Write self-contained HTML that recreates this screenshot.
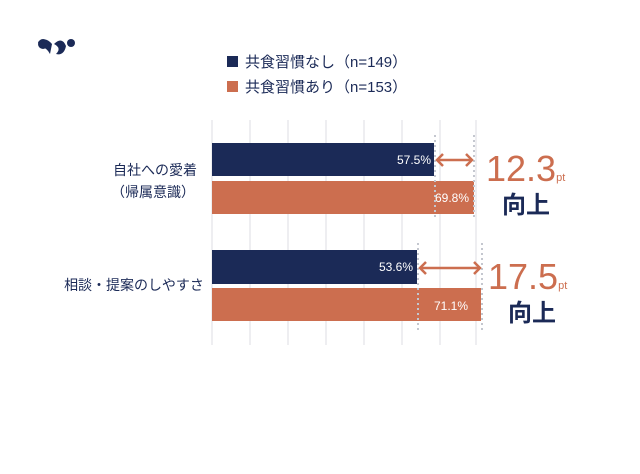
<!DOCTYPE html>
<html><head><meta charset="utf-8"><style>
body{margin:0;background:#fff;width:640px;height:469px;overflow:hidden;font-family:"Liberation Sans","Noto Sans CJK JP",sans-serif;}
</style></head><body>
<svg width="640" height="469" xmlns="http://www.w3.org/2000/svg" font-family="Liberation Sans, Noto Sans CJK JP, sans-serif">
<g fill="#1b2a57">
<circle cx="43" cy="44" r="5"/><path d="M38 42 Q45 36 52 44 L50 54 Q46 46 40 48Z"/>
<path d="M54 44 Q62 36 66 46 Q64 56 56 54 Q62 48 54 44Z"/><circle cx="71" cy="43" r="4"/>
</g>
<rect x="227" y="56" width="11" height="11" fill="#1b2a57"/>
<text x="245" y="67" font-size="15" fill="#1b2a57">共食習慣なし（n=149）</text>
<rect x="227" y="81" width="11" height="11" fill="#cc6e4f"/>
<text x="245" y="92" font-size="15" fill="#1b2a57">共食習慣あり（n=153）</text>
<g stroke="#dcdde3" stroke-width="1">
<line x1="212" y1="120" x2="212" y2="345"/><line x1="250" y1="120" x2="250" y2="345"/>
<line x1="288" y1="120" x2="288" y2="345"/><line x1="326" y1="120" x2="326" y2="345"/>
<line x1="364" y1="120" x2="364" y2="345"/><line x1="402" y1="120" x2="402" y2="345"/>
<line x1="440" y1="120" x2="440" y2="345"/><line x1="476" y1="120" x2="476" y2="345"/>
</g>
<rect x="212" y="143" width="222" height="33" fill="#1b2a57"/>
<rect x="212" y="181" width="262" height="33" fill="#cc6e4f"/>
<rect x="212" y="250" width="205" height="34" fill="#1b2a57"/>
<rect x="212" y="288" width="269" height="33" fill="#cc6e4f"/>
<g stroke="#c4c7cf" stroke-width="2" stroke-dasharray="2,3">
<line x1="435" y1="135" x2="435" y2="220"/><line x1="474" y1="135" x2="474" y2="220"/>
<line x1="418" y1="243" x2="418" y2="330"/><line x1="482" y1="243" x2="482" y2="330"/>
</g>
<g fill="#fff" font-size="12" text-anchor="end">
<text x="431" y="164">57.5%</text><text x="469" y="202">69.8%</text>
<text x="413" y="271">53.6%</text><text x="468" y="310">71.1%</text>
</g>
<g stroke="#cc6e4f" stroke-width="2.5" fill="none">
<line x1="437" y1="160" x2="472" y2="160"/><path d="M443 154 L437 160 L443 166 M466 154 L472 160 L466 166"/>
<line x1="420" y1="268" x2="480" y2="268"/><path d="M426 262 L420 268 L426 274 M474 262 L480 268 L474 274"/>
</g>
<text x="486" y="181" font-size="36" fill="#cc6e4f">12.3<tspan font-size="11">pt</tspan></text>
<text x="502" y="213" font-size="24" font-weight="bold" fill="#1b2a57">向上</text>
<text x="488" y="289" font-size="36" fill="#cc6e4f">17.5<tspan font-size="11">pt</tspan></text>
<text x="508" y="321" font-size="24" font-weight="bold" fill="#1b2a57">向上</text>
<g font-size="14" fill="#1b2a57" text-anchor="middle">
<text x="155" y="175">自社への愛着</text>
<text x="153" y="197">（帰属意識）</text>
<text x="134" y="290">相談・提案のしやすさ</text>
</g>
</svg>
</body></html>
